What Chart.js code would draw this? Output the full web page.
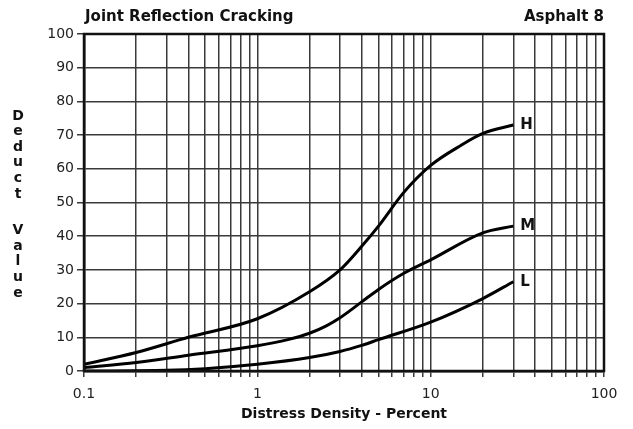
<!DOCTYPE html>
<html>
<head>
<meta charset="utf-8">
<script src="https://cdn.jsdelivr.net/npm/chart.js@4"></script>
<style>
  html, body { margin: 0; padding: 0; background: #fff; }
  #wrap { width: 633px; height: 429px; }
</style>
</head>
<body>
<div id="wrap"><canvas id="chart" width="633" height="429"></canvas></div>
<script>
// Distress density (%) sample points
const densityH = [0.1, 0.2, 0.4, 1, 2, 3, 4, 5, 7, 10, 15, 20, 30];
const deductH  = [2, 5.5, 10, 15.5, 23.5, 30, 37, 43, 53, 61, 67, 70.5, 73];

const densityM = [0.1, 0.2, 0.4, 1, 1.5, 2, 2.5, 3, 4, 5, 7, 10, 20, 30];
const deductM  = [1, 2.5, 4.7, 7.5, 9.3, 11.2, 13.4, 15.8, 20.5, 24.2, 29, 33, 41, 43];

const densityL = [0.1, 0.3, 0.5, 1, 2, 3, 4, 5, 10, 20, 30];
const deductL  = [0, 0.2, 0.7, 2, 4, 5.8, 7.6, 9.3, 14.5, 21.5, 26.5];

const severity = ['H', 'M', 'L'];
const xTicks = [];
[0.1, 1, 10].forEach(d => { for (let i = 1; i <= 9; i++) xTicks.push(+(d * i).toFixed(2)); });
xTicks.push(100);
const xLabels = [0.1, 1, 10, 100];

const FONT = "'DejaVu Sans', Verdana, sans-serif";

function toPoints(xs, ys) {
    return xs.map((x, i) => ({ x: x, y: ys[i] }));
}

const decor = {
    id: 'decor',
    afterDraw(chart) {
        const { ctx, chartArea: a, scales } = chart;
        ctx.save();
        // frame
        ctx.strokeStyle = '#111';
        ctx.lineWidth = 2.5;
        ctx.strokeRect(a.left, a.top, a.right - a.left, a.bottom - a.top);

        // titles
        ctx.fillStyle = '#111';
        ctx.font = 'bold 15px ' + FONT;
        ctx.textBaseline = 'middle';
        ctx.textAlign = 'left';
        ctx.fillText('Joint Reflection Cracking', 85, 17);
        ctx.textAlign = 'right';
        ctx.fillText('Asphalt 8', 604, 17);

        // stacked y title
        ctx.font = 'bold 14px ' + FONT;
        ctx.textAlign = 'center';
        let y = 116;
        'Deduct Value'.split('').forEach(ch => {
            if (ch === ' ') { y += 21; return; }
            ctx.fillText(ch, 18, y);
            y += 15.6;
        });

        // severity labels at curve ends
        ctx.font = 'bold 15px ' + FONT;
        ctx.textAlign = 'left';
        chart.data.datasets.forEach((ds, i) => {
            const last = ds.data[ds.data.length - 1];
            const px = scales.x.getPixelForValue(last.x);
            const py = scales.y.getPixelForValue(last.y);
            ctx.fillText(severity[i], px + 7, py);
        });
        ctx.restore();
    }
};

function lineSet(xs, ys) {
    return {
        data: toPoints(xs, ys),
        borderColor: '#000',
        borderWidth: 3,
        pointRadius: 0,
        cubicInterpolationMode: 'monotone',
        fill: false
    };
}

new Chart(document.getElementById('chart'), {
    type: 'line',
    data: {
        datasets: [
            lineSet(densityH, deductH),
            lineSet(densityM, deductM),
            lineSet(densityL, deductL)
        ]
    },
    options: {
        responsive: false,
        animation: false,
        layout: { padding: { top: 34, right: 29, left: 0, bottom: 6 } },
        plugins: { legend: { display: false }, tooltip: { enabled: false } },
        scales: {
            x: {
                type: 'logarithmic',
                min: 0.1,
                max: 100,
                afterBuildTicks: s => { s.ticks = xTicks.map(v => ({ value: v })); },
                afterFit: s => { s.height = 52; },
                ticks: {
                    autoSkip: false,
                    maxRotation: 0,
                    color: '#222',
                    font: { family: FONT, size: 14 },
                    padding: 9,
                    callback: v => xLabels.includes(+v.toFixed(2)) ? String(+v.toFixed(2)) : ''
                },
                grid: { color: '#3a3a3a', lineWidth: 1.5, tickLength: 6 },
                border: { color: '#111', width: 2.5 },
                title: {
                    display: true,
                    text: 'Distress Density - Percent',
                    color: '#111',
                    font: { family: FONT, size: 14, weight: 'bold' },
                    padding: { top: 0, bottom: 0 }
                }
            },
            y: {
                min: 0,
                max: 100,
                afterFit: s => { s.width = 84; },
                ticks: {
                    stepSize: 10,
                    color: '#222',
                    font: { family: FONT, size: 14 },
                    padding: 3
                },
                grid: { color: '#3a3a3a', lineWidth: 1.5, tickLength: 7 },
                border: { color: '#111', width: 2.5 }
            }
        }
    },
    plugins: [decor]
});
</script>
</body>
</html>
